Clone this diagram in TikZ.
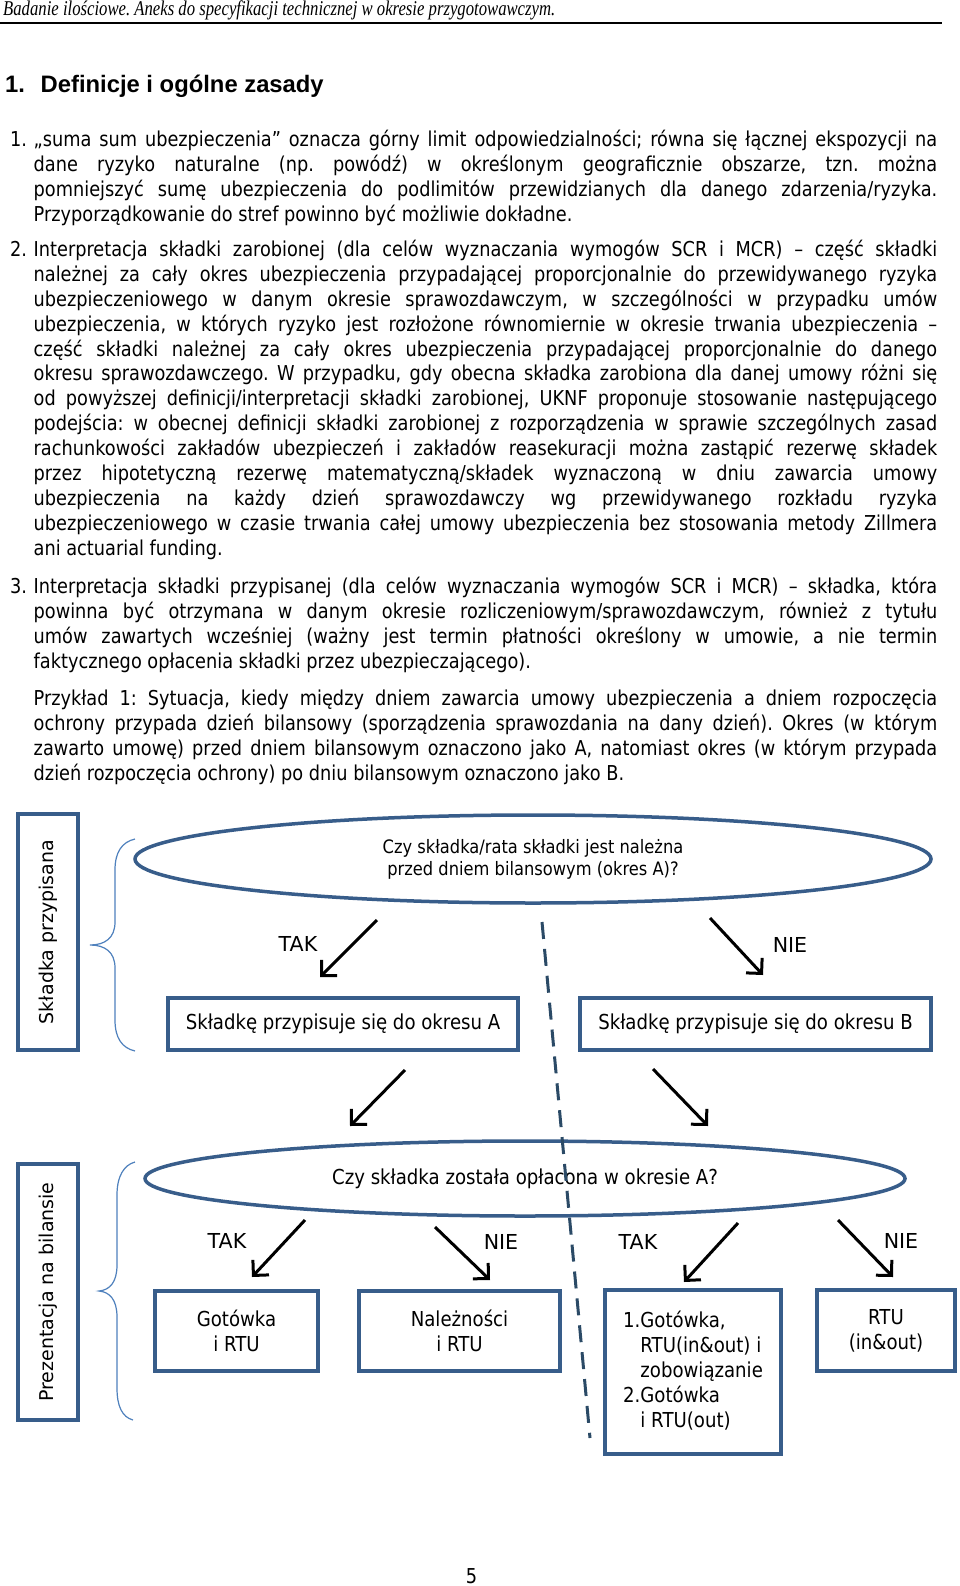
\documentclass[tikz,border=0pt]{standalone}
\usepackage{fontspec}
\setmainfont{DejaVu Sans}
\newfontfamily\bodyfont[FakeStretch=0.865]{DejaVu Sans}
\newfontfamily\diafont[FakeStretch=0.88]{DejaVu Sans}
\newfontfamily\headfont[FakeStretch=0.795]{Liberation Serif}
\newfontfamily\titlefont{Liberation Sans}
\usetikzlibrary{shapes.geometric,arrows.meta}
\definecolor{boxblue}{HTML}{385D8A}
\definecolor{braceblue}{HTML}{4F81BD}
\definecolor{dashblue}{HTML}{2B4A66}
\tolerance=9999
\hyphenpenalty=10000
\exhyphenpenalty=10000
\frenchspacing
\tikzset{
  para/.style={anchor=base west, inner sep=0, text width=903.5pt, align=justify,
    font={\bodyfont\fontsize{20.5}{24.9}\selectfont\frenchspacing}},
  num/.style={anchor=base west, inner sep=0, font={\bodyfont\fontsize{20.5}{24.9}\selectfont}},
  pbox/.style={draw=boxblue, line width=3.5pt, inner sep=0, align=center,
    font={\diafont\fontsize{20.6}{25}\selectfont}},
  qell/.style={ellipse, draw=boxblue, line width=3.5pt, inner sep=0, align=center},
  ans/.style={inner sep=0, font={\fontsize{20.6}{24}\selectfont}},
  arr/.style={line width=3pt, -{Straight Barb[length=11pt,width=22pt]}},
  brace/.style={draw=braceblue, line width=1.2pt},
  split/.style={draw=dashblue, line width=3pt, dash pattern=on 17pt off 10pt}
}
\begin{document}
\begin{tikzpicture}[x=1pt,y=-1pt]
  \useasboundingbox (0,0) rectangle (960,1586);
  \fill[white] (0,0) rectangle (960,1586);

  % page header
  \node[anchor=base west, inner sep=0, font={\headfont\itshape\fontsize{21}{24}\selectfont}] (head) at (3,15.5)
    {Badanie ilościowe. Aneks do specyfikacji technicznej w okresie przygotowawczym.};
  \draw[line width=2pt] (0,23.5) -- (942,23.5);
  \node[anchor=base west, inner sep=0, font={\titlefont\bfseries\fontsize{23.8}{28}\selectfont}] (tnum) at (5,93) {1.};
  \node[anchor=base west, inner sep=0, font={\titlefont\bfseries\fontsize{23.8}{28}\selectfont}] (title) at (40.5,93) {Definicje i ogólne zasady};

  % numbered text
  \node[num] (n1) at (10,146.5) {1.};
  \node[para] (par1) at (33.5,146.5) {„suma sum ubezpieczenia” oznacza górny limit odpowiedzialności; równa się łącznej ekspozycji na\linebreak
    dane ryzyko naturalne (np. powódź) w określonym geograficznie obszarze, tzn. można\linebreak
    pomniejszyć sumę ubezpieczenia do podlimitów przewidzianych dla danego zdarzenia/ryzyka.\linebreak
    Przyporządkowanie do stref powinno być możliwie dokładne.};
  \node[num] (n2) at (10,256.5) {2.};
  \node[para] (par2) at (33.5,256.5) {Interpretacja składki zarobionej (dla celów wyznaczania wymogów SCR i MCR) – część składki\linebreak
    należnej za cały okres ubezpieczenia przypadającej proporcjonalnie do przewidywanego ryzyka\linebreak
    ubezpieczeniowego w danym okresie sprawozdawczym, w szczególności w przypadku umów\linebreak
    ubezpieczenia, w których ryzyko jest rozłożone równomiernie w okresie trwania ubezpieczenia –\linebreak
    część składki należnej za cały okres ubezpieczenia przypadającej proporcjonalnie do danego\linebreak
    okresu sprawozdawczego. W przypadku, gdy obecna składka zarobiona dla danej umowy różni się\linebreak
    od powyższej definicji/interpretacji składki zarobionej, UKNF proponuje stosowanie następującego\linebreak
    podejścia: w obecnej definicji składki zarobionej z rozporządzenia w sprawie szczególnych zasad\linebreak
    rachunkowości zakładów ubezpieczeń i zakładów reasekuracji można zastąpić rezerwę składek\linebreak
    przez hipotetyczną rezerwę matematyczną/składek wyznaczoną w dniu zawarcia umowy\linebreak
    ubezpieczenia na każdy dzień sprawozdawczy wg przewidywanego rozkładu ryzyka\linebreak
    ubezpieczeniowego w czasie trwania całej umowy ubezpieczenia bez stosowania metody Zillmera\linebreak
    ani actuarial funding.};
  \node[num] (n3) at (10,593.5) {3.};
  \node[para] (par3) at (33.5,593.5) {Interpretacja składki przypisanej (dla celów wyznaczania wymogów SCR i MCR) – składka, która\linebreak
    powinna być otrzymana w danym okresie rozliczeniowym/sprawozdawczym, również z tytułu\linebreak
    umów zawartych wcześniej (ważny jest termin płatności określony w umowie, a nie termin\linebreak
    faktycznego opłacenia składki przez ubezpieczającego).};
  \node[para] (par4) at (33.5,705.5) {Przykład 1: Sytuacja, kiedy między dniem zawarcia umowy ubezpieczenia a dniem rozpoczęcia\linebreak
    ochrony przypada dzień bilansowy (sporządzenia sprawozdania na dany dzień). Okres (w którym\linebreak
    zawarto umowę) przed dniem bilansowym oznaczono jako A, natomiast okres (w którym przypada\linebreak
    dzień rozpoczęcia ochrony) po dniu bilansowym oznaczono jako B.};

  % upper part: przypisanie
  \node[pbox, rotate=90, minimum width=236pt, minimum height=60pt, font={\fontsize{19}{22}\selectfont}] (side1) at (48,932) {Składka przypisana};
  \draw[brace] (135,839) .. controls (122,842) and (115,852) .. (115,870) -- (115,922)
    .. controls (115,938) and (105,945) .. (90,945) .. controls (105,945) and (115,952) .. (115,968)
    -- (115,1020) .. controls (115,1038) and (122,1048) .. (135,1051);
  \node[qell, minimum width=796pt, minimum height=88pt, font={\diafont\fontsize{18.5}{22}\selectfont}] (q1) at (533,859)
    {Czy składka/rata składki jest należna\\przed dniem bilansowym (okres A)?};
  \node[pbox, minimum width=350pt, minimum height=52pt] (boxA) at (343,1024) {Składkę przypisuje się do okresu A};
  \node[pbox, minimum width=351pt, minimum height=52pt] (boxB) at (755.5,1024) {Składkę przypisuje się do okresu B};
  \coordinate (q1y) at (377,920);  \coordinate (q1yA) at (320,977);
  \coordinate (q1n) at (710,918);  \coordinate (q1nB) at (763,975);
  \draw[arr] (q1y) -- (q1yA);
  \draw[arr] (q1n) -- (q1nB);
  \node[ans] (yes1) at (298,944) {TAK};
  \node[ans] (no1) at (790,945) {NIE};
  \coordinate (fromA) at (405,1070);  \coordinate (toq2a) at (350,1126);
  \coordinate (fromB) at (653,1069);  \coordinate (toq2b) at (708,1126);
  \draw[arr] (fromA) -- (toq2a);
  \draw[arr] (fromB) -- (toq2b);

  % lower part: bilans
  \node[pbox, rotate=90, minimum width=256pt, minimum height=60pt, font={\fontsize{19}{22}\selectfont}] (side2) at (48,1292) {Prezentacja na bilansie};
  \draw[brace] (135,1162) .. controls (124,1165) and (117,1176) .. (117,1195) -- (117,1265)
    .. controls (117,1282) and (110,1290) .. (99,1291) .. controls (110,1292) and (117,1300) .. (117,1317)
    -- (117,1388) .. controls (117,1406) and (122,1417) .. (133,1420);
  \node[qell, minimum width=760pt, minimum height=75pt, font={\diafont\fontsize{20.6}{25}\selectfont}] (q2) at (525,1178.5)
    {Czy składka została opłacona w okresie A?};
  \node[pbox, minimum width=163pt, minimum height=80pt] (b1) at (236.5,1331) {Gotówka\\i RTU};
  \node[pbox, minimum width=201pt, minimum height=80pt] (b2) at (459.5,1331) {Należności\\i RTU};
  \node[pbox, minimum width=176pt, minimum height=164pt] (b3) at (693,1372)
    {\begin{tabular}{@{}l@{}l@{}}1.&Gotówka,\\&RTU(in\&out) i\\&zobowiązanie\\2.&Gotówka\\&i RTU(out)\end{tabular}};
  \node[pbox, minimum width=138pt, minimum height=81pt] (b4) at (886,1330.5) {RTU\\(in\&out)};
  \coordinate (q2a) at (305,1220);  \coordinate (b1t) at (252,1277);
  \coordinate (q2b) at (435,1227);  \coordinate (b2t) at (490,1280);
  \coordinate (q2c) at (738,1223);  \coordinate (b3t) at (684,1282);
  \coordinate (q2d) at (838,1220);  \coordinate (b4t) at (893,1277);
  \draw[arr] (q2a) -- (b1t);
  \draw[arr] (q2b) -- (b2t);
  \draw[arr] (q2c) -- (b3t);
  \draw[arr] (q2d) -- (b4t);
  \node[ans] (yes2) at (227,1241) {TAK};
  \node[ans] (no2) at (501,1242) {NIE};
  \node[ans] (yes3) at (638,1242) {TAK};
  \node[ans] (no3) at (901,1241) {NIE};

  % A / B split
  \coordinate (cutTop) at (542,922);
  \coordinate (cutBot) at (590,1438);
  \draw[split] (cutTop) -- (cutBot);

  \node[num, anchor=base] (page) at (471.5,1583) {5};
\end{tikzpicture}
\end{document}
